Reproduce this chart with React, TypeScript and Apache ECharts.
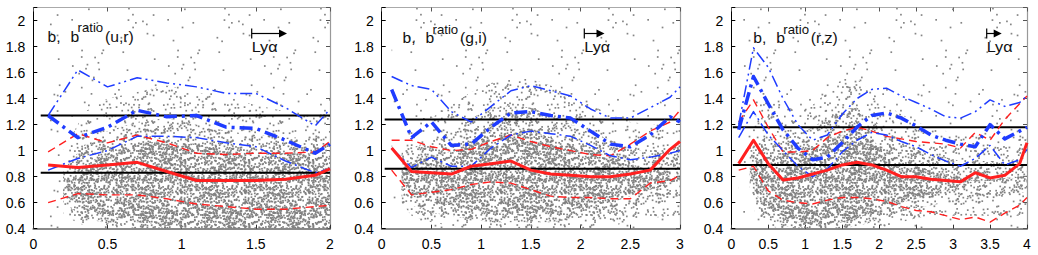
import React, { useEffect, useRef } from "react";
import * as echarts from "echarts";

const FONT = "'Liberation Sans', Arial, sans-serif";

// ---------- Panel 1 : b^ratio(u,r) ----------
const p1Label = "(u,r)";
const p1XMax = 2;
const p1BlackLines = [1.27, 0.83];
const p1BlackStart = 0.05;
const p1RedSolid = [[0.1, 0.89], [0.3, 0.87], [0.5, 0.89], [0.7, 0.91], [0.9, 0.84], [1.1, 0.77], [1.3, 0.77], [1.5, 0.77], [1.7, 0.78], [1.9, 0.81], [2.0, 0.86]];
const p1RedUpper = [[0.1, 0.99], [0.3, 1.13], [0.5, 1.06], [0.7, 1.12], [0.9, 1.06], [1.1, 0.98], [1.3, 0.97], [1.5, 0.98], [1.7, 0.98], [1.9, 0.99], [2.0, 1.07]];
const p1RedLower = [[0.1, 0.60], [0.3, 0.67], [0.5, 0.66], [0.7, 0.66], [0.9, 0.63], [1.1, 0.59], [1.3, 0.57], [1.5, 0.55], [1.7, 0.55], [1.9, 0.57], [2.0, 0.58]];
const p1BlueUpper = [[0.1, 1.27], [0.3, 1.62], [0.5, 1.49], [0.7, 1.56], [0.9, 1.52], [1.1, 1.49], [1.3, 1.44], [1.5, 1.44], [1.7, 1.33], [1.9, 1.19], [2.0, 1.32]];
const p1BlueMid = [[0.1, 1.27], [0.3, 1.10], [0.5, 1.18], [0.7, 1.31], [0.9, 1.26], [1.1, 1.27], [1.3, 1.18], [1.5, 1.17], [1.7, 1.08], [1.9, 0.98], [2.0, 1.05]];
const p1BlueLower = [[0.1, 0.85], [0.3, 0.94], [0.5, 1.0], [0.7, 1.11], [0.9, 1.11], [1.1, 1.10], [1.3, 1.06], [1.5, 1.03], [1.7, 0.92], [1.9, 0.83], [2.0, 0.86]];
// scatter-cloud envelopes
const p1CloudX = [0.2, 0.35, 0.5, 0.7, 0.9, 1.1, 1.3, 1.5, 1.7, 1.9, 2.0];
const p1CoreLo = [0.66, 0.55, 0.5, 0.45, 0.42, 0.4, 0.4, 0.4, 0.4, 0.4, 0.4];
const p1CoreHi = [0.7, 0.9, 0.98, 1.05, 1.08, 1.05, 1.0, 0.98, 0.98, 0.98, 0.98];
const p1MidLo = [0.6, 0.48, 0.44, 0.4, 0.4, 0.4, 0.4, 0.4, 0.4, 0.4, 0.4];
const p1MidHi = [0.85, 1.05, 1.15, 1.22, 1.25, 1.2, 1.15, 1.12, 1.1, 1.1, 1.1];
const p1HaloLo = [0.5, 0.42, 0.4, 0.4, 0.4, 0.4, 0.4, 0.4, 0.4, 0.4, 0.4];
const p1HaloHi = [1.0, 1.3, 1.4, 1.45, 1.5, 1.45, 1.4, 1.35, 1.3, 1.28, 1.28];
const p1SparseX = [0.1, 2.0];

// ---------- Panel 2 : b^ratio(g,i) ----------
const p2Label = "(g,i)";
const p2XMax = 3;
const p2BlackLines = [1.24, 0.86];
const p2BlackStart = 0.03;
const p2RedSolid = [[0.1, 1.02], [0.3, 0.84], [0.5, 0.83], [0.7, 0.82], [0.9, 0.88], [1.1, 0.90], [1.3, 0.92], [1.5, 0.85], [1.7, 0.82], [1.9, 0.81], [2.1, 0.80], [2.3, 0.80], [2.5, 0.82], [2.7, 0.85], [2.9, 1.01], [3.0, 1.07]];
const p2RedUpper = [[0.1, 1.08], [0.3, 1.08], [0.5, 1.03], [0.7, 1.0], [0.9, 1.01], [1.1, 1.07], [1.3, 1.12], [1.5, 1.07], [1.7, 1.03], [1.9, 1.0], [2.1, 0.97], [2.3, 0.96], [2.5, 1.05], [2.7, 1.15], [2.9, 1.22], [3.0, 1.31]];
const p2RedLower = [[0.1, 0.85], [0.3, 0.66], [0.5, 0.68], [0.7, 0.70], [0.9, 0.74], [1.1, 0.76], [1.3, 0.75], [1.5, 0.70], [1.7, 0.65], [1.9, 0.64], [2.1, 0.64], [2.3, 0.63], [2.5, 0.63], [2.7, 0.75], [2.9, 0.77], [3.0, 0.81]];
const p2BlueUpper = [[0.1, 1.57], [0.3, 1.50], [0.5, 1.47], [0.7, 1.30], [0.9, 1.22], [1.1, 1.34], [1.3, 1.46], [1.5, 1.50], [1.7, 1.46], [1.9, 1.42], [2.1, 1.32], [2.3, 1.25], [2.5, 1.25], [2.7, 1.33], [2.9, 1.41], [3.0, 1.49]];
const p2BlueMid = [[0.1, 1.47], [0.3, 1.10], [0.5, 1.22], [0.7, 1.04], [0.9, 1.05], [1.1, 1.18], [1.3, 1.29], [1.5, 1.30], [1.7, 1.27], [1.9, 1.25], [2.1, 1.15], [2.3, 1.05], [2.5, 1.03], [2.7, 1.12], [2.9, 1.26], [3.0, 1.22]];
const p2BlueLower = [[0.1, 1.02], [0.3, 0.87], [0.5, 0.95], [0.7, 0.88], [0.9, 0.88], [1.1, 1.02], [1.3, 1.12], [1.5, 1.15], [1.7, 1.13], [1.9, 1.11], [2.1, 1.04], [2.3, 0.96], [2.5, 0.93], [2.7, 0.95], [2.9, 0.98], [3.0, 1.0]];
const p2CloudX = [0.2, 0.3, 0.5, 0.7, 0.9, 1.1, 1.3, 1.5, 1.7, 1.9, 2.1, 2.3, 2.5, 2.7, 2.9, 3.0];
const p2CoreLo = [0.78, 0.65, 0.6, 0.58, 0.55, 0.53, 0.52, 0.52, 0.53, 0.55, 0.57, 0.6, 0.65, 0.7, 0.75, 0.78];
const p2CoreHi = [0.82, 0.92, 0.95, 1.0, 1.08, 1.15, 1.18, 1.15, 1.1, 1.05, 1.0, 0.95, 0.9, 0.85, 0.8, 0.8];
const p2MidLo = [0.7, 0.58, 0.52, 0.5, 0.47, 0.45, 0.45, 0.45, 0.45, 0.47, 0.5, 0.52, 0.55, 0.6, 0.65, 0.65];
const p2MidHi = [0.9, 1.02, 1.08, 1.15, 1.25, 1.32, 1.35, 1.33, 1.27, 1.2, 1.15, 1.08, 1.02, 0.98, 0.98, 1.0];
const p2HaloLo = [0.6, 0.5, 0.45, 0.42, 0.4, 0.4, 0.4, 0.4, 0.4, 0.4, 0.4, 0.42, 0.45, 0.48, 0.5, 0.5];
const p2HaloHi = [1.0, 1.15, 1.25, 1.35, 1.45, 1.52, 1.55, 1.55, 1.5, 1.42, 1.35, 1.28, 1.22, 1.2, 1.2, 1.22];
const p2SparseX = [0.1, 3.0];

// ---------- Panel 3 : b^ratio(r,z) ----------
const p3Label = "(r,z)";
const p3XMax = 4;
const p3BlackLines = [1.18, 0.89];
const p3BlackStart = 0.02;
const p3RedSolid = [[0.1, 0.90], [0.3, 1.08], [0.5, 0.90], [0.7, 0.775], [0.9, 0.79], [1.1, 0.82], [1.3, 0.85], [1.5, 0.89], [1.7, 0.91], [1.9, 0.89], [2.1, 0.85], [2.3, 0.80], [2.5, 0.80], [2.7, 0.78], [2.9, 0.77], [3.1, 0.76], [3.3, 0.83], [3.5, 0.79], [3.7, 0.81], [3.9, 0.90], [4.0, 1.06]];
const p3RedUpper = [[0.1, 1.22], [0.3, 1.39], [0.5, 1.18], [0.7, 0.99], [0.9, 0.99], [1.1, 1.0], [1.3, 1.10], [1.5, 1.15], [1.7, 1.18], [1.9, 1.15], [2.1, 1.11], [2.3, 1.09], [2.5, 1.07], [2.7, 1.06], [2.9, 1.05], [3.1, 1.02], [3.3, 1.14], [3.5, 1.08], [3.7, 1.24], [3.9, 1.36], [4.0, 1.42]];
const p3RedLower = [[0.1, 0.85], [0.3, 0.88], [0.5, 0.69], [0.7, 0.62], [0.9, 0.60], [1.1, 0.59], [1.3, 0.62], [1.5, 0.64], [1.7, 0.64], [1.9, 0.63], [2.1, 0.61], [2.3, 0.57], [2.5, 0.54], [2.7, 0.53], [2.9, 0.50], [3.1, 0.47], [3.3, 0.49], [3.5, 0.45], [3.7, 0.52], [3.9, 0.58], [4.0, 0.64]];
const p3BlueUpper = [[0.1, 1.20], [0.3, 1.79], [0.5, 1.64], [0.7, 1.40], [0.9, 1.20], [1.1, 1.08], [1.3, 1.12], [1.5, 1.28], [1.7, 1.40], [1.9, 1.47], [2.1, 1.48], [2.3, 1.42], [2.5, 1.37], [2.7, 1.32], [2.9, 1.26], [3.1, 1.25], [3.3, 1.30], [3.5, 1.39], [3.7, 1.34], [3.9, 1.37], [4.0, 1.42]];
const p3BlueMid = [[0.1, 1.16], [0.3, 1.57], [0.5, 1.36], [0.7, 1.16], [0.9, 1.02], [1.1, 0.93], [1.3, 0.95], [1.5, 1.06], [1.7, 1.18], [1.9, 1.27], [2.1, 1.29], [2.3, 1.25], [2.5, 1.19], [2.7, 1.12], [2.9, 1.08], [3.1, 1.05], [3.3, 1.03], [3.5, 1.20], [3.7, 1.09], [3.9, 1.15], [4.0, 1.18]];
const p3BlueLower = [[0.1, 1.10], [0.3, 1.30], [0.5, 1.12], [0.7, 1.0], [0.9, 0.88], [1.1, 0.80], [1.3, 0.86], [1.5, 0.99], [1.7, 1.08], [1.9, 1.14], [2.1, 1.12], [2.3, 1.07], [2.5, 1.03], [2.7, 0.97], [2.9, 0.92], [3.1, 0.88], [3.3, 0.94], [3.5, 1.04], [3.7, 0.89], [3.9, 0.93], [4.0, 1.01]];
const p3CloudX = [0.25, 0.35, 0.5, 0.7, 0.9, 1.1, 1.3, 1.5, 1.7, 1.9, 2.1, 2.3, 2.5, 2.7, 2.9, 3.1, 3.4, 3.7, 4.0];
const p3CoreLo = [0.8, 0.65, 0.55, 0.5, 0.45, 0.43, 0.43, 0.45, 0.48, 0.52, 0.55, 0.6, 0.63, 0.66, 0.7, 0.74, 0.76, 0.78, 0.8];
const p3CoreHi = [0.85, 0.92, 0.98, 0.98, 0.98, 1.02, 1.08, 1.12, 1.15, 1.08, 1.0, 0.93, 0.88, 0.85, 0.82, 0.78, 0.77, 0.79, 0.81];
const p3MidLo = [0.7, 0.55, 0.47, 0.42, 0.4, 0.4, 0.4, 0.4, 0.42, 0.45, 0.5, 0.53, 0.56, 0.58, 0.6, 0.62, 0.64, 0.66, 0.68];
const p3MidHi = [0.95, 1.05, 1.12, 1.12, 1.12, 1.18, 1.25, 1.32, 1.33, 1.25, 1.15, 1.07, 1.02, 0.98, 0.95, 0.92, 0.92, 0.92, 0.95];
const p3HaloLo = [0.6, 0.5, 0.42, 0.4, 0.4, 0.4, 0.4, 0.4, 0.4, 0.4, 0.42, 0.45, 0.48, 0.5, 0.5, 0.5, 0.5, 0.5, 0.5];
const p3HaloHi = [1.1, 1.3, 1.4, 1.35, 1.3, 1.35, 1.45, 1.55, 1.55, 1.45, 1.35, 1.28, 1.22, 1.18, 1.15, 1.12, 1.12, 1.12, 1.12];
const p3SparseX = [0.1, 4.0];

const yTicks = { min: 0.4, max: 2.1, interval: 0.2 };
const xInterval = 0.5;

// layout (pixels)
const GRIDS = [
  { left: 33.3, width: 296.7, titleX: 47.5, titleBase: 41.7, arrowX: 251.7, arrowEnd: 287 },
  { left: 381.7, width: 298.3, titleX: 402.5, titleBase: 43, arrowX: 584.3, arrowEnd: 604.5 },
  { left: 731.3, width: 295.7, titleX: 753.3, titleBase: 43, arrowX: 986.7, arrowEnd: 1001.7 },
];
const GRID_TOP = 7.5;
const GRID_H = 221.2;

const RED = "#ff2020";
const BLUE = "#1f3cff";

function hash(n: number) {
  let h = Math.imul(n ^ 0x9e3779b9, 0x85ebca6b);
  h ^= h >>> 13;
  h = Math.imul(h, 0xc2b2ae35);
  h ^= h >>> 16;
  return (h >>> 0) / 4294967296;
}

// dotted texture tile used to paint the point cloud
function makeDots(size: number, count: number, seed: number, color: string, dot: number) {
  const c = document.createElement("canvas");
  c.width = size;
  c.height = size;
  const ctx = c.getContext("2d")!;
  ctx.fillStyle = color;
  for (let i = 0; i < count; i++) {
    const x = hash(seed * 7919 + i * 2) * size;
    const y = hash(seed * 7919 + i * 2 + 1) * size;
    ctx.fillRect(x, y, dot, dot);
    if (x > size - dot) ctx.fillRect(x - size, y, dot, dot);
    if (y > size - dot) ctx.fillRect(x, y - size, dot, dot);
  }
  return { image: c.toDataURL(), repeat: "repeat", imageWidth: size, imageHeight: size };
}

export default function App() {
  const ref = useRef<HTMLDivElement>(null);
  useEffect(() => {
    if (!ref.current) return;
    const chart = echarts.init(ref.current, undefined, { renderer: "svg" });

    const sparsePat = makeDots(96, 44, 11, "#858585", 1.7);
    const haloPat = makeDots(64, 130, 23, "#838383", 1.7);
    const midPat = makeDots(64, 260, 37, "#818181", 1.7);
    const corePat = makeDots(64, 480, 51, "#808080", 1.7);

    const panels = [
      { label: p1Label, xMax: p1XMax, black: p1BlackLines, bStart: p1BlackStart, rs: p1RedSolid, ru: p1RedUpper, rl: p1RedLower, bu: p1BlueUpper, bm: p1BlueMid, bl: p1BlueLower, cx: p1CloudX, cLo: p1CoreLo, cHi: p1CoreHi, mLo: p1MidLo, mHi: p1MidHi, hLo: p1HaloLo, hHi: p1HaloHi, sx: p1SparseX },
      { label: p2Label, xMax: p2XMax, black: p2BlackLines, bStart: p2BlackStart, rs: p2RedSolid, ru: p2RedUpper, rl: p2RedLower, bu: p2BlueUpper, bm: p2BlueMid, bl: p2BlueLower, cx: p2CloudX, cLo: p2CoreLo, cHi: p2CoreHi, mLo: p2MidLo, mHi: p2MidHi, hLo: p2HaloLo, hHi: p2HaloHi, sx: p2SparseX },
      { label: p3Label, xMax: p3XMax, black: p3BlackLines, bStart: p3BlackStart, rs: p3RedSolid, ru: p3RedUpper, rl: p3RedLower, bu: p3BlueUpper, bm: p3BlueMid, bl: p3BlueLower, cx: p3CloudX, cLo: p3CoreLo, cHi: p3CoreHi, mLo: p3MidLo, mHi: p3MidHi, hLo: p3HaloLo, hHi: p3HaloHi, sx: p3SparseX },
    ];

    const grid: any[] = [];
    const xAxis: any[] = [];
    const yAxis: any[] = [];
    const series: any[] = [];
    const graphic: any[] = [];

    const yFmt = (v: number) => {
      const k = v * 5;
      return Math.abs(k - Math.round(k)) < 1e-6 ? String(+v.toFixed(1)) : "";
    };

    const band = (i: number, xs: number[], lo: number[], hi: number[], fill: any, z: number) => ({
      type: "custom",
      xAxisIndex: 2 * i,
      yAxisIndex: 2 * i,
      z,
      silent: true,
      clip: true,
      data: [[xs[0], lo[0]]],
      renderItem: (_p: any, api: any) => {
        const pts: number[][] = [];
        for (let k = 0; k < xs.length; k++) pts.push(api.coord([xs[k], hi[k]]));
        for (let k = xs.length - 1; k >= 0; k--) pts.push(api.coord([xs[k], lo[k]]));
        return { type: "polygon", shape: { points: pts }, style: { fill, stroke: "none" } };
      },
    });

    const line = (i: number, data: number[][], color: string, width: number, type: any, z: number) => ({
      type: "line",
      xAxisIndex: 2 * i,
      yAxisIndex: 2 * i,
      data,
      symbol: "none",
      silent: true,
      clip: true,
      z,
      lineStyle: { color, width, type, cap: "butt", join: "round" },
    });

    const txt = (x: number, base: number, text: string, fs: number, sx: number) => ({
      type: "text",
      x,
      y: base - 0.35 * fs,
      scaleX: sx,
      z: 100,
      style: { text, fontSize: fs, fontFamily: FONT, fill: "#111", verticalAlign: "middle", align: "left" },
    });

    panels.forEach((p, i) => {
      const g = GRIDS[i];
      grid.push({ left: g.left, top: GRID_TOP, width: g.width, height: GRID_H });
      xAxis.push({
        gridIndex: i, type: "value", min: 0, max: p.xMax, interval: xInterval, position: "bottom",
        axisLine: { show: true, onZero: false, lineStyle: { color: "#8a8a8a", width: 2 } },
        axisTick: { show: true, inside: true, length: 4, lineStyle: { color: "#333", width: 1 } },
        axisLabel: { color: "#000", fontSize: 14, fontFamily: FONT, margin: 8 },
        splitLine: { show: false },
      });
      xAxis.push({
        gridIndex: i, type: "value", min: 0, max: p.xMax, interval: xInterval, position: "top",
        axisLine: { show: true, onZero: false, lineStyle: { color: "#aaa", width: 1 } },
        axisTick: { show: true, inside: true, length: 4, lineStyle: { color: "#555", width: 1 } },
        axisLabel: { show: false },
        splitLine: { show: false },
      });
      yAxis.push({
        gridIndex: i, type: "value", ...yTicks, position: "left",
        axisLine: { show: true, onZero: false, lineStyle: { color: "#000", width: 1 } },
        axisTick: { show: true, inside: true, length: 4, lineStyle: { color: "#000", width: 1 } },
        axisLabel: { color: "#000", fontSize: 14, fontFamily: FONT, margin: 8, formatter: yFmt },
        splitLine: { show: false },
      });
      yAxis.push({
        gridIndex: i, type: "value", ...yTicks, position: "right",
        axisLine: { show: true, onZero: false, lineStyle: { color: "#999", width: 1.2 } },
        axisTick: { show: true, inside: true, length: 4, lineStyle: { color: "#555", width: 1 } },
        axisLabel: { show: false },
        splitLine: { show: false },
      });

      // point cloud, painted as dotted bands of increasing density
      series.push(band(i, p.sx, [yTicks.min, yTicks.min], [yTicks.max, yTicks.max], sparsePat, 1));
      series.push(band(i, p.cx, p.hLo, p.hHi, haloPat, 2));
      series.push(band(i, p.cx, p.mLo, p.mHi, midPat, 3));
      series.push(band(i, p.cx, p.cLo, p.cHi, corePat, 4));

      // black reference lines
      p.black.forEach((v) => {
        series.push(line(i, [[p.bStart, v], [p.xMax, v]], "#000", 2, "solid", 5));
      });

      // red dashed percentiles
      series.push(line(i, p.ru, RED, 1.4, [8, 5], 6));
      series.push(line(i, p.rl, RED, 1.4, [8, 5], 6));
      // blue lines
      series.push(line(i, p.bu, BLUE, 1.5, [12, 4, 2, 4, 2, 4], 7));
      series.push(line(i, p.bl, BLUE, 1.5, [12, 4, 2, 4], 7));
      series.push(line(i, p.bm, BLUE, 3.5, [13, 5, 3, 5], 7));
      // red solid median
      series.push(line(i, p.rs, RED, 3, "solid", 8));

      // panel title: b,  b^ratio(x,y)
      graphic.push(txt(g.titleX, g.titleBase, "b,", 14, 1.12));
      graphic.push(txt(g.titleX + 23, g.titleBase, "b", 14, 1.12));
      graphic.push(txt(g.titleX + 30, g.titleBase - 9, "ratio", 12, 1.1));
      graphic.push(txt(g.titleX + 57.5, g.titleBase, p.label, 14, 1.12));

      // Ly-alpha arrow
      const ay = 33.5;
      graphic.push({ type: "line", z: 100, shape: { x1: g.arrowX, y1: 28.5, x2: g.arrowX, y2: 38.5 }, style: { stroke: "#000", lineWidth: 1.2 } });
      graphic.push({ type: "line", z: 100, shape: { x1: g.arrowX, y1: ay, x2: g.arrowEnd - 7, y2: ay }, style: { stroke: "#000", lineWidth: 1.2 } });
      graphic.push({ type: "polygon", z: 100, shape: { points: [[g.arrowEnd - 8, ay - 4], [g.arrowEnd, ay], [g.arrowEnd - 8, ay + 4]] }, style: { fill: "#000" } });
      graphic.push(txt(g.arrowX, 51.7, "Lyα", 14.5, 1.12));
    });

    chart.setOption({
      animation: false,
      backgroundColor: "#fff",
      grid,
      xAxis,
      yAxis,
      series,
      graphic,
    });
    return () => chart.dispose();
  }, []);

  return (
    <div
      ref={ref}
      style={{ position: "fixed", left: 0, top: 0, width: 1038, height: 255 }}
    />
  );
}
